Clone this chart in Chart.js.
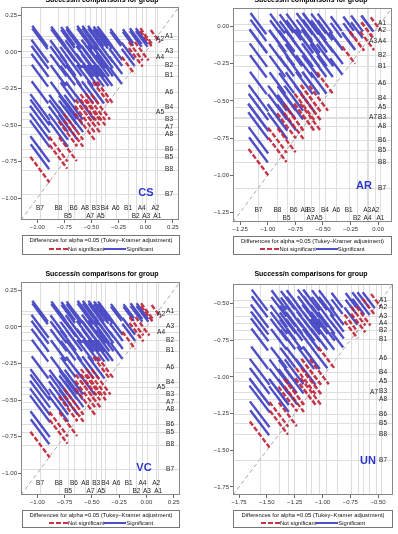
<!DOCTYPE html>
<html>
<head>
<meta charset="utf-8">
<script src="https://cdn.jsdelivr.net/npm/chart.js@4.4.1/dist/chart.umd.min.js"></script>
<style>
body { margin: 0; background: #fff; font-family: "Liberation Sans", Arial, sans-serif; }
#page { position: relative; width: 398px; height: 534px; overflow: hidden; }
canvas { position: absolute; }
.title { position: absolute; width: 220px; margin-left: -110px; text-align: center; font-weight: bold; font-size: 7px; line-height: 10px; color: #000; }
.tag { position: absolute; font-weight: bold; font-size: 11px; line-height: 12px; color: #2a35c9; transform: translate(-50%, -50%); }
.legend { position: absolute; border: 1px solid #777; background: #fff; font-size: 5.8px; color: #111; text-align: center; box-sizing: border-box; }
.legend .lt { position: absolute; left: 0; right: 0; top: 1px; line-height: 7px; white-space: nowrap; }
.legend .li { position: absolute; left: 0; right: 0; line-height: 7px; white-space: nowrap; }
.legend svg { vertical-align: middle; }
</style>
</head>
<body>
<div id="page"></div>
<script>
var groups = ['A1', 'A2', 'A3', 'A4', 'A5', 'A6', 'A7', 'A8', 'B1', 'B2', 'B3', 'B4', 'B5', 'B6', 'B7', 'B8'];

// group means (Success/n) per panel
var csMeans = [0.108, 0.090, 0.005, -0.036, -0.414, -0.276, -0.512, -0.560, -0.162, -0.091, -0.460, -0.377, -0.717, -0.665, -0.975, -0.805];
var arMeans = [0.020, -0.025, -0.100, -0.096, -0.540, -0.380, -0.613, -0.668, -0.268, -0.192, -0.610, -0.482, -0.830, -0.765, -1.085, -0.912];
var vcMeans = [0.108, 0.090, 0.005, -0.036, -0.414, -0.276, -0.512, -0.560, -0.162, -0.091, -0.460, -0.377, -0.717, -0.665, -0.975, -0.805];
var unMeans = [-0.476, -0.521, -0.585, -0.632, -1.028, -0.869, -1.103, -1.151, -0.744, -0.678, -1.100, -0.965, -1.312, -1.255, -1.565, -1.392];

// per group contribution to the Tukey-Kramer half width
var halfW = [0.06, 0.06, 0.09, 0.09, 0.12, 0.08, 0.13, 0.13, 0.075, 0.09, 0.13, 0.12, 0.11, 0.12, 0.13, 0.12];

var csTicks = [-1.00, -0.75, -0.50, -0.25, 0.00, 0.25];
var arTicks = [-1.25, -1.00, -0.75, -0.50, -0.25, 0.00];
var unTicks = [-1.75, -1.50, -1.25, -1.00, -0.75, -0.50];

var titleText = 'Success/n comparisons for group';
var legendTitle = 'Differences for alpha =0.05 (Tukey\u2013Kramer adjustment)';

var BLUE = 'rgba(48,48,190,0.85)';
var RED = 'rgba(192,36,56,0.92)';
var FONT = '"Liberation Sans", Arial, sans-serif';

function fmt(v) {
	return (v < -1e-9 ? '\u2212' : '') + Math.abs(v).toFixed(2);
}

function buildSegments(means) {
	var sig = [], ns = [];
	for (var i = 0; i < means.length; i++) {
		for (var j = i + 1; j < means.length; j++) {
			var lo = Math.min(means[i], means[j]);
			var hi = Math.max(means[i], means[j]);
			var hw = Math.sqrt(halfW[i] * halfW[i] + halfW[j] * halfW[j]);
			var seg = [{x: lo - hw / 2, y: hi + hw / 2}, {x: lo + hw / 2, y: hi - hw / 2}, {x: null, y: null}];
			if (hi - lo > hw) sig.push.apply(sig, seg);
			else ns.push.apply(ns, seg);
		}
	}
	return {sig: sig, ns: ns};
}

var diffPlugin = {
	id: 'diffogram',
	beforeDatasetsDraw: function(chart) {
		var ctx = chart.ctx, a = chart.chartArea;
		var xs = chart.scales.x, ys = chart.scales.y;
		var means = chart.options.plugins.diffogram.means;
		ctx.save();
		ctx.strokeStyle = '#dedede';
		ctx.lineWidth = 1;
		means.forEach(function(m) {
			var px = Math.round(xs.getPixelForValue(m)) + 0.5;
			var py = Math.round(ys.getPixelForValue(m)) + 0.5;
			ctx.beginPath();
			ctx.moveTo(px, a.top); ctx.lineTo(px, a.bottom);
			ctx.moveTo(a.left, py); ctx.lineTo(a.right, py);
			ctx.stroke();
		});
		// diagonal
		ctx.strokeStyle = '#a8a8a8';
		ctx.setLineDash([4, 3]);
		ctx.beginPath();
		ctx.moveTo(xs.getPixelForValue(xs.min), ys.getPixelForValue(ys.min));
		ctx.lineTo(xs.getPixelForValue(xs.max), ys.getPixelForValue(ys.max));
		ctx.stroke();
		ctx.restore();
	},
	afterDraw: function(chart) {
		var ctx = chart.ctx, a = chart.chartArea;
		var xs = chart.scales.x, ys = chart.scales.y;
		var opt = chart.options.plugins.diffogram;
		var means = opt.means;
		ctx.save();
		ctx.strokeStyle = '#888';
		ctx.lineWidth = 1;
		ctx.strokeRect(Math.round(a.left) + 0.5, Math.round(a.top) + 0.5, Math.round(a.right - a.left) - 1, Math.round(a.bottom - a.top) - 1);

		ctx.fillStyle = '#222';
		ctx.font = '6.5px ' + FONT;
		ctx.textBaseline = 'middle';
		var order = means.map(function(m, i) { return i; });

		// labels on the right, highest first
		order.sort(function(p, q) { return means[q] - means[p]; });
		var lastY = -1e9;
		ctx.textAlign = 'right';
		order.forEach(function(i) {
			var py = ys.getPixelForValue(means[i]);
			var px = a.right - 6;
			if (py - lastY < 6.5) px -= 9;
			else lastY = py;
			ctx.fillText(groups[i], px, py);
		});

		// labels along the bottom, lowest first
		if (opt.bottomLabels) {
			order.sort(function(p, q) { return means[p] - means[q]; });
			var lastX = -1e9, row = 1;
			ctx.textAlign = 'center';
			order.forEach(function(i) {
				var px = xs.getPixelForValue(means[i]);
				if (px - lastX < 10.5) row = 1 - row;
				else row = 0;
				lastX = px;
				ctx.fillText(groups[i], px, a.bottom - (row ? 4 : 11.5));
			});
		}
		ctx.restore();
	}
};

function makePanel(cfg) {
	var page = document.getElementById('page');
	var canvas = document.createElement('canvas');
	canvas.width = cfg.w;
	canvas.height = cfg.h;
	canvas.style.left = cfg.left + 'px';
	canvas.style.top = cfg.top + 'px';
	page.appendChild(canvas);

	var segs = buildSegments(cfg.means);
	var tickFont = {size: 6, family: FONT};
	var axis = function(w, h) {
		return {
			type: 'linear',
			min: cfg.min,
			max: cfg.max,
			afterFit: function(scale) {
				if (w) scale.width = w;
				if (h) scale.height = h;
			},
			afterBuildTicks: function(scale) {
				scale.ticks = cfg.ticks.map(function(v) { return {value: v}; });
			},
			ticks: {font: tickFont, color: '#333', padding: 1, autoSkip: false, maxRotation: 0, callback: fmt},
			grid: {display: true, drawOnChartArea: false, drawTicks: true, tickLength: 3, tickColor: '#666'},
			border: {display: false}
		};
	};

	new Chart(canvas, {
		type: 'line',
		data: {
			datasets: [
				{label: 'Not significant', data: segs.ns, borderColor: RED, borderWidth: 2.4, borderDash: [5, 2], pointRadius: 0, spanGaps: false},
				{label: 'Significant', data: segs.sig, borderColor: BLUE, borderWidth: 2.4, pointRadius: 0, spanGaps: false}
			]
		},
		options: {
			responsive: false,
			animation: false,
			devicePixelRatio: 1,
			layout: {padding: {left: cfg.padL, right: cfg.padR, top: cfg.padT, bottom: 0}},
			scales: {x: axis(0, cfg.xh), y: axis(cfg.yw, 0)},
			plugins: {
				legend: {display: false},
				tooltip: {enabled: false},
				diffogram: {means: cfg.means, bottomLabels: cfg.bottomLabels}
			}
		},
		plugins: [diffPlugin]
	});

	var t = document.createElement('div');
	t.className = 'title';
	t.style.left = cfg.titleX + 'px';
	t.style.top = cfg.titleY + 'px';
	t.textContent = titleText;
	page.appendChild(t);

	var g = document.createElement('div');
	g.className = 'tag';
	g.style.left = cfg.tagX + 'px';
	g.style.top = cfg.tagY + 'px';
	g.textContent = cfg.tag;
	page.appendChild(g);

	var lg = document.createElement('div');
	lg.className = 'legend';
	lg.style.left = cfg.lg[0] + 'px';
	lg.style.top = cfg.lg[1] + 'px';
	lg.style.width = cfg.lg[2] + 'px';
	lg.style.height = cfg.lg[3] + 'px';
	lg.innerHTML = '<div class="lt">' + legendTitle + '</div>' +
		'<div class="li" style="top:' + cfg.lg[4] + 'px">' +
		'<svg width="19" height="4"><line x1="0" y1="2" x2="19" y2="2" stroke="' + RED + '" stroke-width="2" stroke-dasharray="5,2"/></svg>Not significant' +
		'<svg width="22" height="4"><line x1="0" y1="2" x2="22" y2="2" stroke="' + BLUE + '" stroke-width="2"/></svg>Significant</div>';
	page.appendChild(lg);
}

makePanel({tag: 'CS', means: csMeans, ticks: csTicks, min: -1.15, max: 0.308, left: 0, top: 0, w: 200, h: 234,
	padL: 0, yw: 21, padR: 21, padT: 7, xh: 14, bottomLabels: true,
	titleX: 102, titleY: -5, tagX: 146, tagY: 192, lg: [22, 235, 158, 20, 10]});
makePanel({tag: 'AR', means: arMeans, ticks: arTicks, min: -1.315, max: 0.125, left: 200, top: 0, w: 198, h: 236,
	padL: 0, yw: 33, padR: 6, padT: 8, xh: 14, bottomLabels: true,
	titleX: 311, titleY: -5, tagX: 364, tagY: 185, lg: [233, 236, 159, 19, 9]});
makePanel({tag: 'VC', means: vcMeans, ticks: csTicks, min: -1.15, max: 0.308, left: 0, top: 267, w: 200, h: 242,
	padL: 0, yw: 21, padR: 20, padT: 15, xh: 14, bottomLabels: true,
	titleX: 102, titleY: 269, tagX: 144, tagY: 467, lg: [22, 510, 158, 18, 9]});
makePanel({tag: 'UN', means: unMeans, ticks: unTicks, min: -1.805, max: -0.366, left: 200, top: 267, w: 198, h: 242,
	padL: 0, yw: 33, padR: 5, padT: 17, xh: 14, bottomLabels: false,
	titleX: 311, titleY: 269, tagX: 368, tagY: 460, lg: [233, 510, 160, 18, 9]});
</script>
</body>
</html>
